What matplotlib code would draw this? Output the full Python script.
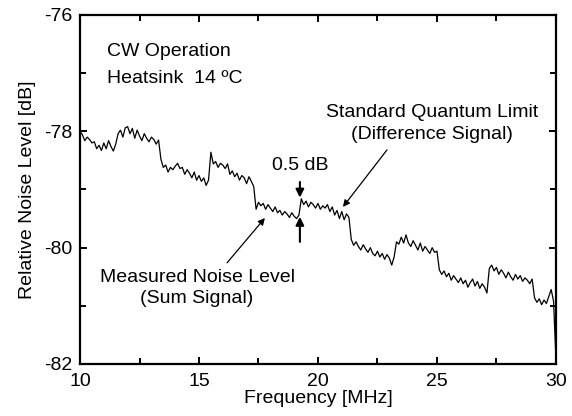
"""Relative noise level vs frequency, CW operation (sum vs difference signal)."""
import numpy as np

import matplotlib
matplotlib.use("Agg")
import matplotlib.pyplot as plt  # noqa: E402
from matplotlib.ticker import MultipleLocator  # noqa: E402

plt.rcParams["font.family"] = ["Liberation Sans", "DejaVu Sans"]
plt.rcParams["axes.unicode_minus"] = False

# sweep 10..30 MHz, one reading every 0.1 MHz
f_start, f_stop = 10.0, 30.0
noise_db = [
    -78.00, -78.06, -78.16, -78.10, -78.14, -78.20, -78.18, -78.30, -78.24, -78.33,
    -78.20, -78.30, -78.16, -78.26, -78.34, -78.22, -78.04, -77.98, -78.10, -77.94,
    -77.92, -78.04, -77.95, -78.12, -77.98, -78.08, -78.16, -78.04, -78.12, -78.18,
    -78.10, -78.14, -78.22, -78.15, -78.48, -78.62, -78.58, -78.70, -78.62, -78.66,
    -78.60, -78.55, -78.64, -78.62, -78.74, -78.66, -78.72, -78.80, -78.70, -78.84,
    -78.76, -78.86, -78.80, -78.93, -78.84, -78.36, -78.56, -78.52, -78.62, -78.55,
    -78.58, -78.64, -78.56, -78.74, -78.68, -78.78, -78.72, -78.84, -78.76, -78.80,
    -78.90, -78.78, -78.86, -78.95, -79.34, -79.22, -79.28, -79.24, -79.34, -79.26,
    -79.32, -79.38, -79.30, -79.40, -79.36, -79.44, -79.38, -79.42, -79.48, -79.40,
    -79.46, -79.50, -79.44, -79.16, -79.26, -79.20, -79.30, -79.22, -79.26, -79.32,
    -79.24, -79.34, -79.28, -79.32, -79.26, -79.38, -79.30, -79.44, -79.36, -79.50,
    -79.38, -79.52, -79.42, -79.48, -79.86, -79.96, -79.90, -79.98, -80.04, -79.95,
    -80.02, -80.08, -80.00, -80.10, -80.14, -80.06, -80.16, -80.10, -80.20, -80.12,
    -80.18, -80.30, -80.16, -79.90, -79.94, -79.82, -79.92, -79.78, -79.92, -79.98,
    -79.88, -79.96, -80.04, -79.92, -80.06, -79.98, -80.04, -80.10, -80.00, -80.08,
    -80.06, -80.38, -80.46, -80.40, -80.50, -80.44, -80.56, -80.48, -80.54, -80.60,
    -80.52, -80.62, -80.56, -80.68, -80.60, -80.54, -80.66, -80.58, -80.70, -80.62,
    -80.68, -80.78, -80.36, -80.30, -80.40, -80.34, -80.46, -80.38, -80.44, -80.52,
    -80.42, -80.50, -80.56, -80.46, -80.54, -80.48, -80.58, -80.52, -80.56, -80.62,
    -80.54, -80.86, -80.94, -80.88, -80.98, -80.90, -80.96, -80.84, -80.72, -80.92,
    -81.90,
]
freq = np.linspace(f_start, f_stop, len(noise_db))

fig = plt.figure(figsize=(5.72, 4.16), dpi=100)
ax = fig.add_axes([0.1399, 0.125, 0.832, 0.839])

ax.plot(freq, noise_db, color="black", lw=0.9)

ax.set_xlim(10, 30)
ax.set_ylim(-82, -76)
ax.xaxis.set_major_locator(MultipleLocator(5))
ax.xaxis.set_minor_locator(MultipleLocator(2.5))
ax.yaxis.set_major_locator(MultipleLocator(2))
ax.yaxis.set_minor_locator(MultipleLocator(1))
ax.tick_params(which="both", direction="in", top=True, right=True,
               width=1.4, labelsize=14)
ax.tick_params(axis="x", pad=6.5)
ax.tick_params(axis="y", pad=5.5)
ax.tick_params(which="major", length=5)
ax.tick_params(which="minor", length=4)
for sp in ax.spines.values():
    sp.set_linewidth(1.6)

ax.set_xlabel("Frequency [MHz]", fontsize=14, labelpad=0)
ax.set_ylabel("Relative Noise Level [dB]", fontsize=14, labelpad=6)

ax.text(11.15, -76.63, "CW Operation", fontsize=14, va="center", ha="left")
ax.text(11.15, -77.09, "Heatsink  14 ºC", fontsize=14, va="center", ha="left")

ax.text(24.79, -77.68, "Standard Quantum Limit", fontsize=14, ha="center", va="center")
ax.text(24.79, -78.06, "(Difference Signal)", fontsize=14, ha="center", va="center")
ax.annotate("", xy=(21.05, -79.30), xytext=(22.9, -78.32),
            arrowprops=dict(arrowstyle="-|>", color="black", lw=0.9,
                            mutation_scale=10, shrinkA=0, shrinkB=0))

ax.text(14.92, -80.52, "Measured Noise Level", fontsize=14, ha="center", va="center")
ax.text(14.92, -80.88, "(Sum Signal)", fontsize=14, ha="center", va="center")
ax.annotate("", xy=(17.77, -79.49), xytext=(16.18, -80.26),
            arrowprops=dict(arrowstyle="-|>", color="black", lw=0.9,
                            mutation_scale=10, shrinkA=0, shrinkB=0))

ax.text(19.24, -78.59, "0.5 dB", fontsize=14, ha="center", va="center")
ax.annotate("", xy=(19.24, -79.14), xytext=(19.24, -78.87),
            arrowprops=dict(arrowstyle="-|>", color="black", lw=1.5,
                            mutation_scale=12, shrinkA=0, shrinkB=0))
ax.annotate("", xy=(19.24, -79.47), xytext=(19.24, -79.90),
            arrowprops=dict(arrowstyle="-|>", color="black", lw=1.5,
                            mutation_scale=12, shrinkA=0, shrinkB=0))

fig.savefig("out.png", dpi=100)
